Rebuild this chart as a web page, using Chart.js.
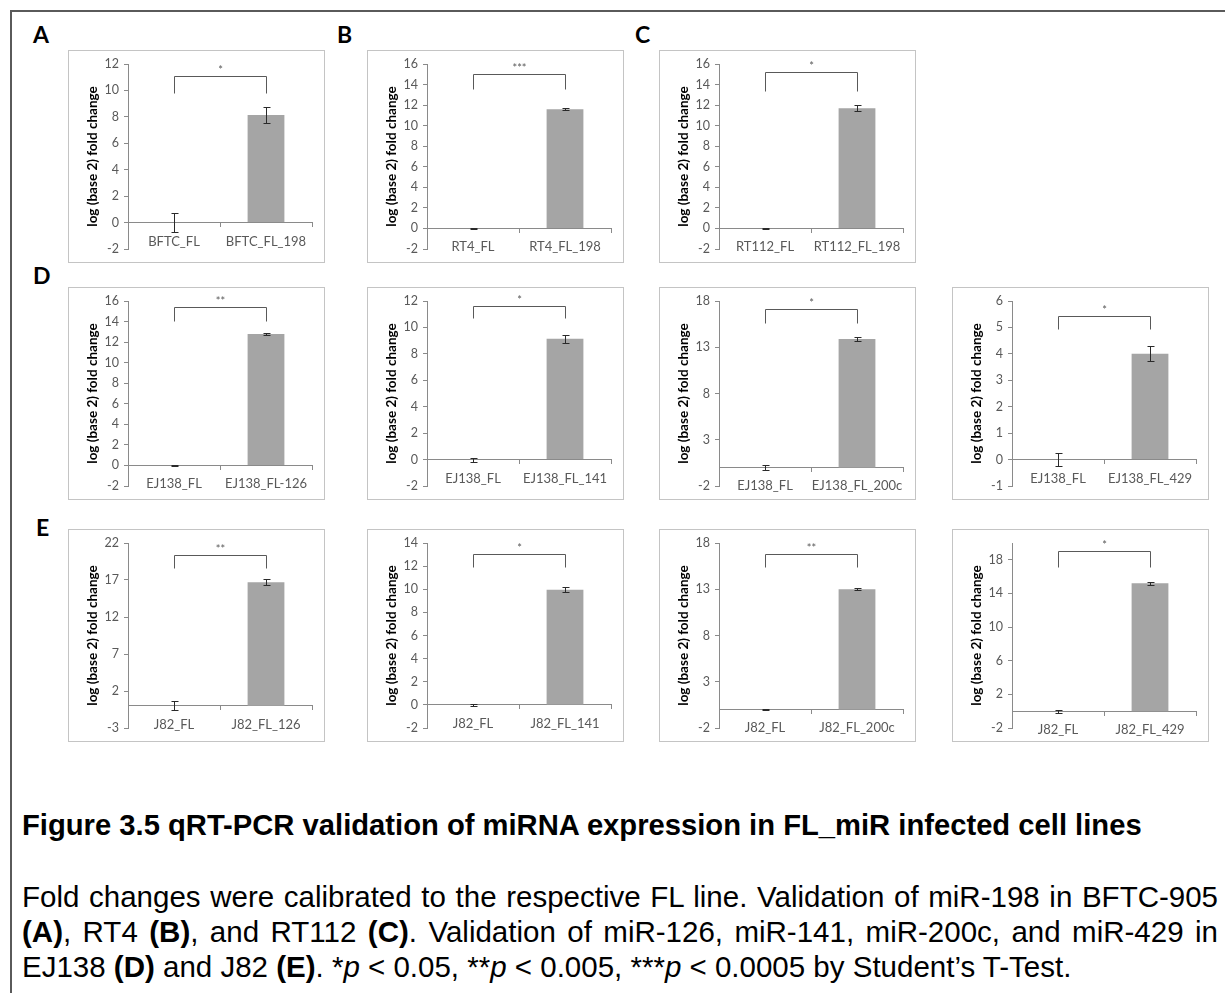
<!DOCTYPE html>
<html>
<head>
<meta charset="utf-8">
<script src="https://cdn.jsdelivr.net/npm/chart.js@4.4.1/dist/chart.umd.min.js"></script>
<style>
  body { margin: 0; width: 1225px; height: 993px; overflow: hidden; position: relative; background: #fff; font-family: "Liberation Sans", Arial, sans-serif; color: #000; }
  .frame-top { position: absolute; left: 10px; top: 10px; width: 1215px; height: 2px; background: #5a5a5a; }
  .frame-left { position: absolute; left: 10px; top: 10px; width: 2px; height: 983px; background: #5a5a5a; }
  .letter { position: absolute; font: bold 23px Lato, sans-serif; line-height: 23px; }
  .box { position: absolute; width: 255px; height: 211px; border: 1px solid #c4c4c4; }
  .box canvas { display: block; }
  .caption { position: absolute; left: 22px; top: 808px; font-weight: bold; font-size: 29.2px; line-height: 34px; white-space: nowrap; }
  .para { position: absolute; left: 22px; top: 879px; width: 1196px; font-size: 29.5px; line-height: 35px; }
  .para div { white-space: nowrap; }
  .para .just { text-align: justify; text-align-last: justify; }
</style>
</head>
<body>
<div class="frame-top"></div>
<div class="frame-left"></div>

<div class="caption">Figure 3.5 qRT-PCR validation of miRNA expression in FL_miR infected cell lines</div>
<div class="para">
  <div class="just">Fold changes were calibrated to the respective FL line. Validation of miR-198 in BFTC-905</div>
  <div class="just"><b>(A)</b>, RT4 <b>(B)</b>, and RT112 <b>(C)</b>. Validation of miR-126, miR-141, miR-200c, and miR-429 in</div>
  <div>EJ138 <b>(D)</b> and J82 <b>(E)</b>. *<i>p</i> &lt; 0.05, **<i>p</i> &lt; 0.005, ***<i>p</i> &lt; 0.0005 by Student’s T-Test.</div>
</div>

<script>
// one entry per panel: A, B, C, D (4 panels), E (4 panels)
const controlLabels = ['BFTC_FL', 'RT4_FL', 'RT112_FL', 'EJ138_FL', 'EJ138_FL', 'EJ138_FL', 'EJ138_FL', 'J82_FL', 'J82_FL', 'J82_FL', 'J82_FL'];
const treatedLabels = ['BFTC_FL_198', 'RT4_FL_198', 'RT112_FL_198', 'EJ138_FL-126', 'EJ138_FL_141', 'EJ138_FL_200c', 'EJ138_FL_429', 'J82_FL_126', 'J82_FL_141', 'J82_FL_200c', 'J82_FL_429'];
const controlMeans = [0, 0, 0, 0, 0, 0, 0, 0, 0, 0, 0];
const controlErrors = [0.75, 0.08, 0.08, 0.08, 0.15, 0.3, 0.23, 0.6, 0.1, 0.06, 0.2];
const treatedMeans = [8.15, 11.6, 11.7, 12.8, 9.15, 13.9, 4.0, 16.7, 9.95, 13.0, 15.2];
const treatedErrors = [0.6, 0.12, 0.28, 0.12, 0.31, 0.24, 0.28, 0.4, 0.23, 0.1, 0.2];
const sigMarks = ['*', '***', '*', '**', '*', '*', '*', '**', '*', '**', '*'];
const bracketTops = [11.1, 15.0, 15.2, 15.4, 11.6, 17.1, 5.43, 20.4, 13.05, 16.8, 19.0];
const bracketLegs = [9.8, 13.6, 13.4, 14.1, 10.7, 15.6, 4.93, 18.6, 11.9, 15.4, 17.2];
const yMins = [-2, -2, -2, -2, -2, -2, -1, -3, -2, -2, -2];
const yMaxs = [12, 16, 16, 16, 12, 18, 6, 22, 14, 18, 20];
const yTickValues = [
  [-2, 0, 2, 4, 6, 8, 10, 12],
  [-2, 0, 2, 4, 6, 8, 10, 12, 14, 16],
  [-2, 0, 2, 4, 6, 8, 10, 12, 14, 16],
  [-2, 0, 2, 4, 6, 8, 10, 12, 14, 16],
  [-2, 0, 2, 4, 6, 8, 10, 12],
  [-2, 3, 8, 13, 18],
  [-1, 0, 1, 2, 3, 4, 5, 6],
  [-3, 2, 7, 12, 17, 22],
  [-2, 0, 2, 4, 6, 8, 10, 12, 14],
  [-2, 3, 8, 13, 18],
  [-2, 2, 6, 10, 14, 18]
];
const yTitle = 'log (base 2) fold change';

// layout
const colLefts = [68, 367, 659, 952];
const rowTops = [50, 287, 529];
const cells = [[0, 0], [0, 1], [0, 2], [1, 0], [1, 1], [1, 2], [1, 3], [2, 0], [2, 1], [2, 2], [2, 3]];
const letters = [['A', 33, 23], ['B', 337, 23], ['C', 635, 23], ['D', 33, 264], ['E', 36, 516]];

const axisColor = '#8a8a8a';
const tickColor = '#595959';

letters.forEach(([t, x, y]) => {
  const d = document.createElement('div');
  d.className = 'letter';
  d.textContent = t;
  d.style.left = x + 'px';
  d.style.top = y + 'px';
  document.body.appendChild(d);
});

const errorBarPlugin = {
  id: 'errorBars',
  afterDatasetsDraw(chart, args, opts) {
    const { ctx, scales: { x, y } } = chart;
    const means = chart.data.datasets[0].data;
    ctx.save();
    ctx.strokeStyle = '#2a2a2a';
    ctx.lineWidth = 1;
    means.forEach((m, k) => {
      const e = opts.errors[k];
      const px = Math.round(x.getPixelForValue(k)) + 0.5;
      const top = Math.round(y.getPixelForValue(m + e)) + 0.5;
      const bot = Math.round(y.getPixelForValue(m - e)) + 0.5;
      ctx.beginPath();
      ctx.moveTo(px, top); ctx.lineTo(px, bot);
      ctx.moveTo(px - 3, top); ctx.lineTo(px + 4, top);
      ctx.moveTo(px - 3, bot); ctx.lineTo(px + 4, bot);
      ctx.stroke();
    });
    ctx.restore();
  }
};

const bracketPlugin = {
  id: 'sigBracket',
  afterDatasetsDraw(chart, args, opts) {
    const { ctx, scales: { x, y } } = chart;
    const x1 = Math.round(x.getPixelForValue(0)) + 0.5;
    const x2 = Math.round(x.getPixelForValue(1)) + 0.5;
    const top = Math.round(y.getPixelForValue(opts.top)) + 0.5;
    const leg = Math.round(y.getPixelForValue(opts.leg)) + 0.5;
    ctx.save();
    ctx.strokeStyle = '#595959';
    ctx.lineWidth = 1;
    ctx.beginPath();
    ctx.moveTo(x1, leg); ctx.lineTo(x1, top); ctx.lineTo(x2, top); ctx.lineTo(x2, leg);
    ctx.stroke();
    ctx.fillStyle = '#595959';
    ctx.font = '11px Lato';
    ctx.textAlign = 'center';
    ctx.textBaseline = 'alphabetic';
    ctx.fillText(opts.mark, (x1 + x2) / 2, top - 3);
    ctx.restore();
  }
};

function makePanel(i) {
  const box = document.createElement('div');
  box.className = 'box';
  box.style.left = colLefts[cells[i][1]] + 'px';
  box.style.top = rowTops[cells[i][0]] + 'px';
  const canvas = document.createElement('canvas');
  canvas.width = 255;
  canvas.height = 211;
  box.appendChild(canvas);
  document.body.appendChild(box);

  new Chart(canvas, {
    type: 'bar',
    data: {
      labels: [controlLabels[i], treatedLabels[i]],
      datasets: [{
        data: [controlMeans[i], treatedMeans[i]],
        backgroundColor: '#a5a5a5',
        barPercentage: 0.4,
        categoryPercentage: 1
      }]
    },
    options: {
      responsive: false,
      animation: false,
      layout: { padding: { left: 14, right: 12, top: 13, bottom: 13 } },
      plugins: {
        legend: { display: false },
        tooltip: { enabled: false },
        errorBars: { errors: [controlErrors[i], treatedErrors[i]] },
        sigBracket: { top: bracketTops[i], leg: bracketLegs[i], mark: sigMarks[i] }
      },
      scales: {
        x: {
          position: { y: 0 },
          offset: true,
          grid: { offset: true, drawOnChartArea: false, tickLength: 4, color: axisColor },
          border: { color: axisColor },
          ticks: { color: tickColor, font: { family: 'Lato', size: 13 }, padding: 7, maxRotation: 0, autoSkip: false },
          afterFit: s => { s.height = 0; s.paddingLeft = 0; s.paddingRight = 0; }
        },
        y: {
          min: yMins[i],
          max: yMaxs[i],
          afterBuildTicks: s => { s.ticks = yTickValues[i].map(v => ({ value: v })); },
          grid: { drawOnChartArea: false, tickLength: 4, color: axisColor },
          border: { color: axisColor },
          ticks: { color: tickColor, font: { family: 'Lato', size: 12.5 }, padding: 5 },
          title: { display: true, text: yTitle, color: '#000', font: { family: 'Lato', size: 13.5, weight: 'bold' }, padding: { top: 2, bottom: 0 } },
          afterFit: s => { s.width = 45; s.paddingTop = 0; s.paddingBottom = 0; }
        }
      }
    },
    plugins: [errorBarPlugin, bracketPlugin]
  });
}

for (let i = 0; i < controlLabels.length; i++) makePanel(i);
</script>
</body>
</html>
